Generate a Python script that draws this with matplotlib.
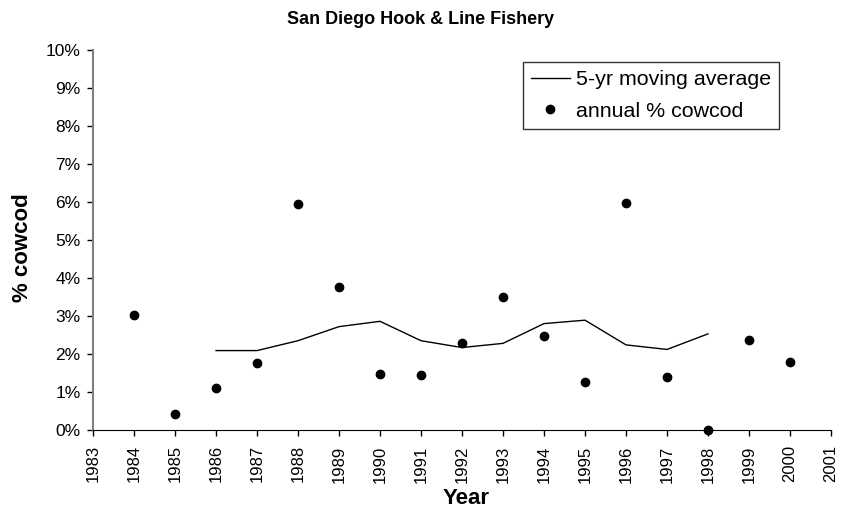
import matplotlib
matplotlib.use("Agg")
import matplotlib.pyplot as plt
from matplotlib.ticker import FuncFormatter

plt.rcParams['font.family'] = ['Liberation Sans', 'DejaVu Sans']

years = [1984, 1985, 1986, 1987, 1988, 1989, 1990, 1991, 1992, 1993,
         1994, 1995, 1996, 1997, 1998, 1999, 2000]
annual_pct = [3.03, 0.41, 1.11, 1.77, 5.94, 3.76, 1.48, 1.44, 2.30, 3.51,
              2.47, 1.26, 5.97, 1.40, 0.0, 2.37, 1.78]
ma_years = [1986, 1987, 1988, 1989, 1990, 1991, 1992, 1993, 1994, 1995,
            1996, 1997, 1998]
ma_pct = [2.09, 2.09, 2.35, 2.72, 2.86, 2.35, 2.17, 2.28, 2.80, 2.89,
          2.24, 2.12, 2.53]
xtick_years = list(range(1983, 2002))
ytick_vals = list(range(0, 11))

W, H = 842, 514
fig = plt.figure(figsize=(W/100, H/100), dpi=100)
ax = fig.add_axes([93/W, 1 - 430/H, (831-93)/W, (430-50)/H])

ax.plot(ma_years, ma_pct, color='black', linewidth=1.0, label='5-yr moving average')
ax.plot(years, annual_pct, linestyle='none', marker='o', markersize=6,
        color='black', label='annual % cowcod', clip_on=False, zorder=5)

ax.set_xlim(1983, 2001)
ax.set_ylim(0, 10)
ax.set_xticks(xtick_years)
ax.set_xticklabels([str(y) for y in xtick_years], rotation=90, fontsize=12)
ax.set_yticks(ytick_vals)
ax.yaxis.set_major_formatter(FuncFormatter(lambda v, p: f"{int(v)}%"))
ax.tick_params(axis='y', labelsize=12.5, direction='out', length=4, width=1, pad=5)
ax.tick_params(axis='x', direction='out', length=4, width=1, pad=7)

for s in ['top', 'right']:
    ax.spines[s].set_visible(False)
ax.spines['left'].set_color('#808080')
ax.spines['left'].set_linewidth(1.5)
ax.spines['bottom'].set_color('black')

fig.text(0.5, 1 - 20/H, 'San Diego Hook & Line Fishery', fontsize=13,
         fontweight='bold', ha='center', va='center')
ax.set_xlabel('Year', fontsize=16, fontweight='bold')
ax.xaxis.set_label_coords((466-93)/738, (430-498)/380)
ax.xaxis.label.set_va('center')
ax.set_ylabel('% cowcod', fontsize=16, fontweight='bold')
ax.yaxis.set_label_coords((23-93)/738, (430-248)/380)
ax.yaxis.label.set_va('center')

leg = ax.legend(loc='upper left', bbox_to_anchor=((523-93)/738, (430-62)/380),
                fontsize=15.4, frameon=True, fancybox=False, edgecolor='black',
                handlelength=1.8, borderpad=0.38, labelspacing=0.6,
                handletextpad=0.3, borderaxespad=0)
leg.get_frame().set_linewidth(1.0)

fig.savefig('out.png', dpi=100)
